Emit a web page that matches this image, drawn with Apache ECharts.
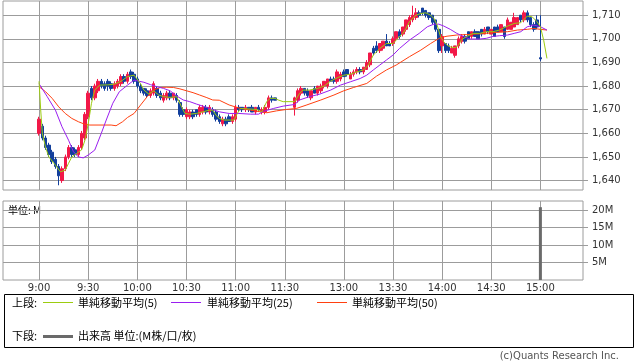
<!DOCTYPE html>
<html><head><meta charset="utf-8">
<script src="https://cdn.jsdelivr.net/npm/echarts@6/dist/echarts.min.js"></script>
<style>html,body{margin:0;padding:0;background:#fff}#c{width:638px;height:362px}</style>
</head><body><div id="c"></div>
<script>
// ---- data (slot = minutes on compressed session axis; 9:00 = 0, 12:30 = 156) ----
const slotStart = -22, slotEnd = 332;
const tickSlots  = [0, 30, 60, 90, 120, 150, 186, 216, 246, 276, 306];
const tickLabels = ['9:00','9:30','10:00','10:30','11:00','11:30','13:00','13:30','14:00','14:30','15:00'];
const priceTicks = [1640, 1650, 1660, 1670, 1680, 1690, 1700, 1710];
const volumeTicks = [5, 10, 15, 20];

const candleSlot = [0,2,4,6,8,10,12,14,16,18,20,22,24,26,28,30,32,34,36,38,40,42,44,46,48,50,52,54,56,58,60,62,64,66,68,70,72,74,76,78,80,82,84,86,88,90,92,94,96,98,100,102,104,106,108,110,112,114,116,118,120,122,124,126,128,130,132,134,136,138,140,142,144,
156,158,160,162,164,166,168,170,172,174,176,178,180,182,184,186,188,190,192,194,196,198,200,202,204,206,208,210,212,214,216,218,220,222,224,226,228,230,232,234,236,238,240,242,244,246,248,250,252,254,256,258,260,262,264,266,268,270,272,274,276,278,280,282,284,286,288,290,292,294,296,298,300,302,304,306];
const candleOpen = [1660,1663,1658,1655,1652,1649,1646,1640,1645,1650,1654,1653,1651,1654,1658,1667,1679,1675,1678,1682,1681,1682,1681,1679,1680,1681,1684,1682,1686,1685,1683,1680,1679,1678,1676,1677,1679,1677,1674,1675,1677,1675,1676,1673,1670,1667,1667,1669,1670,1668,1669,1671,1669,1670,1669,1667,1664,1666,1667,1665,1666,1671,1671,1670,1671,1671,1669,1671,1669,1669,1671,1675,1675,
1671,1674,1677,1679,1678,1675,1679,1677,1678,1680,1680,1683,1683,1682,1683,1686,1687,1683,1685,1686,1687,1686,1687,1689,1696,1697,1695,1696,1699,1698,1698,1700,1703,1702,1704,1706,1708,1709,1711,1713,1712,1711,1710,1708,1704,1697,1698,1697,1694,1693,1697,1699,1701,1703,1701,1703,1703,1704,1702,1705,1702,1705,1705,1703,1705,1704,1704,1705,1706,1710,1708,1711,1709,1706,1708,1692];
const candleClose = [1666,1658,1654,1651,1648,1646,1642,1645,1650,1654,1651,1651,1654,1660,1668,1677,1675,1680,1682,1680,1679,1680,1679,1681,1682,1684,1682,1685,1684,1682,1680,1678,1677,1676,1678,1681,1676,1675,1676,1677,1675,1677,1674,1668,1668,1670,1669,1667,1668,1671,1671,1669,1671,1668,1666,1665,1666,1664,1665,1667,1671,1670,1670,1671,1670,1669,1671,1670,1670,1671,1675,1674,1674,
1675,1678,1679,1677,1676,1678,1677,1680,1680,1682,1683,1682,1682,1686,1685,1684,1685,1685,1686,1687,1686,1688,1690,1694,1694,1695,1698,1699,1697,1697,1700,1703,1701,1705,1708,1709,1710,1711,1710,1711,1710,1709,1707,1704,1695,1701,1695,1695,1696,1697,1700,1701,1699,1700,1703,1701,1700,1702,1704,1703,1704,1701,1703,1706,1701,1708,1707,1709,1709,1708,1711,1708,1706,1704,1705,1691.5];
const candleLow = [1659,1657,1653,1650,1647,1645,1638,1639,1644,1649,1650,1650,1650,1653,1657,1666,1674,1674,1677,1679,1678,1678,1678,1678,1679,1680,1681,1681,1683,1681,1679,1677,1676,1675,1675,1676,1675,1674,1673,1674,1674,1674,1673,1667,1667,1666,1666,1666,1667,1667,1668,1668,1668,1667,1665,1664,1663,1663,1665,1664,1665,1669,1669,1669,1669,1669,1668,1669,1668,1668,1670,1673,1674,
1667.5,1673,1676,1676,1675,1674,1677,1676,1677,1679,1679,1682,1681,1681,1682,1684,1684,1683,1684,1685,1685,1685,1687,1688,1693,1694,1694,1695,1697,1697,1697,1699,1700,1701,1703,1705,1707,1708,1709,1710,1709,1708,1706,1703,1694,1694,1694,1694,1694,1692,1696,1698,1698,1700,1700,1701,1700,1701,1702,1702,1702,1701,1703,1703,1700,1704,1704,1705,1706,1707,1707,1707,1705,1703,1704,1690.5];
const candleHigh = [1667,1664,1659,1656,1653,1650,1647,1646,1651,1655,1655,1654,1655,1661,1669,1678,1680,1681,1683,1683,1682,1683,1682,1682,1683,1685,1685,1686,1687,1686,1684,1681,1679,1679,1679,1682,1680,1678,1677,1678,1678,1677,1677,1674,1671,1671,1670,1670,1670,1672,1672,1672,1672,1671,1670,1668,1667,1667,1668,1668,1672,1672,1671,1672,1671,1672,1671,1672,1671,1672,1676,1676,1675,
1675.5,1679,1680,1679,1679,1678,1680,1680,1681,1682,1683,1684,1684,1687,1686,1687,1687,1686,1687,1688,1688,1688,1691,1694,1697,1699,1698,1699,1702,1699,1701,1703,1704,1705,1708,1710,1714,1713,1712,1713,1712,1711,1710,1708,1704,1702,1698,1698,1697,1697,1701,1702,1702,1703,1703,1704,1703,1704,1705,1705,1704,1705,1706,1706,1705,1709,1707,1711,1709,1710,1712,1712,1709,1707,1710,1710];

const ma5 = [[0,1682],[1,1670],[2,1660],[4,1654],[6,1650],[10,1646.5],[13,1643.7],[16,1644.4],[18,1647.3],[20,1650],[23,1651.5],[26,1653],[28,1657],[30,1664],[32,1672.7],[34,1678.3],[37,1680.4],[42,1680.5],[46,1680.8],[50,1682],[54,1684],[58,1684.6],[62,1681],[64,1678.3],[67,1676.6],[70,1678],[73,1676.2],[76,1675.5],[80,1675.2],[84,1675.5],[87,1671.2],[89,1668.4],[92,1668.1],[96,1668.4],[100,1669.1],[104,1669.8],[106,1669.8],[108,1667.7],[110,1666.3],[113,1665.6],[119,1665.6],[121,1668.4],[123,1670.5],[133,1670.1],[136,1669.1],[139,1673.4],[141,1674.8],[144,1674.8],[146,1674.1],[149,1673.4],[156,1673.4],[157,1674.1],[159,1676.9],[161,1678.3],[165,1678.3],[170,1679],[174,1680],[178,1682.1],[182,1683.5],[186,1684.6],[190,1685],[194,1686],[198,1686.8],[201,1688.9],[204,1693.1],[208,1695.9],[212,1698],[216,1698],[219,1700.2],[222,1702.3],[224,1704.4],[226,1707.2],[230,1710],[233,1710.7],[236,1711],[239,1710],[241,1708.6],[243,1705.8],[245,1701],[247,1698.7],[249,1697.3],[251,1696.6],[254,1696.2],[256,1697.3],[258,1699.7],[261,1701],[265,1702.3],[269,1702.3],[273,1703],[277,1703],[281,1703.7],[286,1705.4],[290,1706.5],[294,1706.8],[298,1709.6],[301,1709.3],[304,1707.2],[306,1705.1],[308,1699.4],[310,1691.7]];
const ma25 = [[0,1681],[5,1675.5],[10,1669.8],[14,1662.8],[18,1657.1],[21,1652.2],[24,1650],[27,1649.6],[30,1650.8],[34,1652.9],[38,1660],[41,1665.6],[45,1672.7],[49,1677.6],[54,1680.4],[58,1682.5],[64,1681.6],[68,1680.6],[72,1679.7],[76,1679],[80,1678],[84,1675.8],[88,1674.1],[92,1673.4],[96,1672.4],[100,1671.5],[104,1670.5],[110,1669.1],[116,1668.4],[122,1668.4],[129,1668.1],[134,1668.1],[137,1669.3],[143,1670.5],[149,1671.5],[156,1672.2],[159,1674.1],[165,1675.5],[171,1676.5],[178,1678.3],[184,1680.4],[190,1681.8],[196,1683.2],[200,1684.6],[204,1686.8],[208,1688.9],[212,1691],[216,1693.1],[220,1695.9],[226,1699.4],[232,1702.3],[237,1705.1],[241,1706.2],[244,1706.2],[247,1705.4],[251,1704],[255,1702.3],[259,1701],[263,1699.9],[269,1699.9],[273,1700.2],[277,1701],[281,1701.3],[286,1701.6],[290,1702.3],[294,1703],[298,1705.1],[302,1705.8],[306,1705.1],[310,1703.7]];
const ma50 = [[0,1679.7],[4,1677.6],[8,1674.8],[12,1671.2],[16,1668.4],[20,1666.3],[24,1664.9],[28,1663.8],[31,1663.5],[36,1663.5],[44,1663.5],[47,1663.2],[51,1664.9],[54,1666.7],[58,1668.4],[62,1672],[66,1675.5],[70,1678.3],[74,1679.4],[78,1679.5],[82,1679.4],[86,1678.8],[90,1678],[94,1677.2],[98,1676.2],[102,1675.2],[106,1674.1],[110,1674],[116,1672],[122,1670.7],[129,1669.8],[135,1669.1],[139,1668.7],[145,1669.5],[151,1670.1],[157,1670.5],[163,1671.9],[172,1674.1],[180,1676.2],[186,1678],[192,1679.4],[200,1681.1],[206,1684.2],[212,1686.8],[218,1688.9],[226,1692.4],[233,1695.2],[239,1698],[243,1699.7],[245,1700.5],[249,1701.1],[255,1701.6],[261,1701.8],[267,1702],[273,1702.3],[279,1702.7],[286,1703],[292,1703.7],[298,1704],[302,1704.4],[306,1704],[310,1703.7]];

const volumeSlot = [306];
const volumeValue = [20.8]; // millions

// ---- build ----
const N = slotEnd - slotStart + 1;
const cats = [];
for (let s = slotStart; s <= slotEnd; s++) cats.push('s' + s);
const labelMap = {};
tickSlots.forEach((s, i) => { labelMap['s' + s] = tickLabels[i]; });
const isTick = (idx, val) => labelMap[val] !== undefined;

const candleData = new Array(N).fill('-');
candleSlot.forEach((s, i) => {
  candleData[s - slotStart] = [candleOpen[i], candleClose[i], candleLow[i], candleHigh[i]];
});
const volData = new Array(N).fill('-');
volumeSlot.forEach((s, i) => { volData[s - slotStart] = volumeValue[i]; });
const toIdx = arr => arr.map(p => [p[0] - slotStart, p[1]]);

const gridColor = '#9c9c9c';
const axisFont = { fontFamily: 'DejaVu Sans', fontSize: 10, color: '#333' };
const jp = '"Noto Sans CJK JP"';
const c5 = '#9ccc10', c25 = '#9a1ef0', c50 = '#ff4010';

const chart = echarts.init(document.getElementById('c'), null, { renderer: 'canvas' });
const xBase = {
  type: 'category', data: cats, boundaryGap: false,
  axisLine: { show: false }, axisTick: { show: false },
  splitLine: { show: true, interval: isTick, lineStyle: { color: gridColor, width: 1 } }
};
chart.setOption({
  animation: false,
  grid: [
    { left: 3, top: 1, width: 580, height: 189, show: true, borderColor: gridColor, borderWidth: 1, backgroundColor: '#fff' },
    { left: 3, top: 201, width: 580, height: 79, show: true, borderColor: gridColor, borderWidth: 1, backgroundColor: '#fff' }
  ],
  xAxis: [
    Object.assign({}, xBase, { gridIndex: 0, axisLabel: { show: false } }),
    Object.assign({}, xBase, { gridIndex: 1,
      axisLabel: Object.assign({ show: true, interval: isTick, margin: 3, formatter: v => labelMap[v] || '' }, axisFont) })
  ],
  yAxis: [
    { type: 'value', gridIndex: 0, position: 'right', min: 1636, max: 1716,
      axisLine: { show: false },
      axisTick: { show: true, length: 5, customValues: priceTicks, lineStyle: { color: gridColor } },
      axisLabel: Object.assign({ customValues: priceTicks, margin: 9,
        formatter: v => String(v).replace(/\B(?=(\d{3})+(?!\d))/g, ',') }, axisFont),
      splitLine: { show: true, lineStyle: { color: gridColor, width: 1 } } },
    { type: 'value', gridIndex: 1, position: 'right', min: 0, max: 22.57,
      axisLine: { show: false },
      axisTick: { show: true, length: 5, customValues: volumeTicks, lineStyle: { color: gridColor } },
      axisLabel: Object.assign({ customValues: volumeTicks, margin: 9, formatter: v => v + 'M' }, axisFont),
      splitLine: { show: true, lineStyle: { color: gridColor, width: 1 } } }
  ],
  series: [
    { type: 'candlestick', xAxisIndex: 0, yAxisIndex: 0, data: candleData, barWidth: 3,
      itemStyle: { color: '#f21848', color0: '#123f9c', borderColor: '#f21848', borderColor0: '#123f9c', borderWidth: 1 } },
    { type: 'line', xAxisIndex: 0, yAxisIndex: 0, data: toIdx(ma50), symbol: 'none', lineStyle: { color: c50, width: 1 } },
    { type: 'line', xAxisIndex: 0, yAxisIndex: 0, data: toIdx(ma25), symbol: 'none', lineStyle: { color: c25, width: 1 } },
    { type: 'line', xAxisIndex: 0, yAxisIndex: 0, data: toIdx(ma5), symbol: 'none', lineStyle: { color: c5, width: 1 } },
    { type: 'bar', xAxisIndex: 1, yAxisIndex: 1, data: volData, barWidth: 3, itemStyle: { color: '#6a6a6a' } }
  ],
  graphic: [
    { type: 'text', x: 8, y: 210, style: { text: '単位: M', font: '10px ' + jp, fill: '#000', verticalAlign: 'middle', textVerticalAlign: 'middle' } },
    { type: 'rect', shape: { x: 4.5, y: 294.5, width: 629, height: 53 }, style: { fill: 'none', stroke: '#000', lineWidth: 1 } },
    { type: 'text', x: 12, y: 303, style: { text: '上段:', font: '11px ' + jp, fill: '#000', verticalAlign: 'middle', textVerticalAlign: 'middle' } },
    { type: 'rect', shape: { x: 43, y: 302, width: 30, height: 1 }, style: { fill: c5, stroke: 'none' } },
    { type: 'text', x: 78, y: 303, style: { text: '単純移動平均(5)', font: '11px ' + jp, fill: '#000', verticalAlign: 'middle', textVerticalAlign: 'middle' } },
    { type: 'rect', shape: { x: 171, y: 302, width: 30, height: 1 }, style: { fill: c25, stroke: 'none' } },
    { type: 'text', x: 207, y: 303, style: { text: '単純移動平均(25)', font: '11px ' + jp, fill: '#000', verticalAlign: 'middle', textVerticalAlign: 'middle' } },
    { type: 'rect', shape: { x: 317, y: 302, width: 30, height: 1 }, style: { fill: c50, stroke: 'none' } },
    { type: 'text', x: 352, y: 303, style: { text: '単純移動平均(50)', font: '11px ' + jp, fill: '#000', verticalAlign: 'middle', textVerticalAlign: 'middle' } },
    { type: 'text', x: 12, y: 336, style: { text: '下段:', font: '11px ' + jp, fill: '#000', verticalAlign: 'middle', textVerticalAlign: 'middle' } },
    { type: 'rect', shape: { x: 43, y: 335, width: 30, height: 3 }, style: { fill: '#6a6a6a', stroke: 'none' } },
    { type: 'text', x: 78, y: 336, style: { text: '出来高 単位:(M株/口/枚)', font: '11px ' + jp, fill: '#000', verticalAlign: 'middle', textVerticalAlign: 'middle' } },
    { type: 'text', x: 619, y: 356, style: { text: '(c)Quants Research Inc.', font: '10px "DejaVu Sans"', fill: '#555', align: 'right', textAlign: 'right', verticalAlign: 'middle', textVerticalAlign: 'middle' } }
  ]
});
</script></body></html>
